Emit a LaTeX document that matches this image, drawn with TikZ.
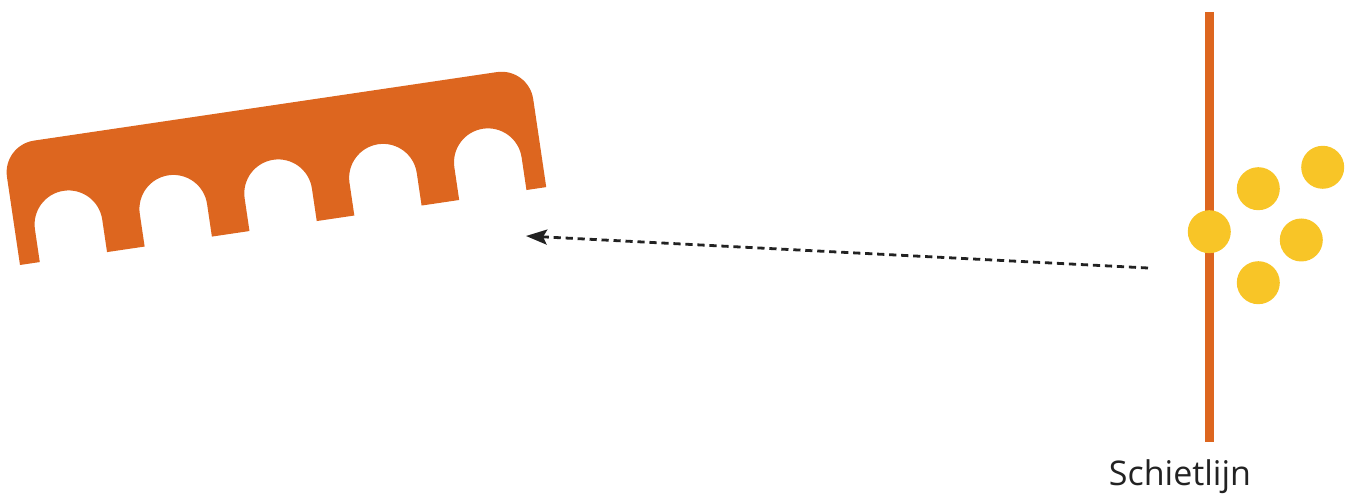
\documentclass[tikz,border=0pt]{standalone}
\usepackage{fontspec}
\setmainfont{Open Sans}
\usetikzlibrary{arrows.meta}
\definecolor{goalorange}{HTML}{DD661F}
\definecolor{ballyellow}{HTML}{F8C527}
\definecolor{inkgrey}{HTML}{222222}
\tikzset{
  ball/.style={circle,fill=ballyellow,draw=none,minimum size=21.5pt,inner sep=0pt},
  shotline/.style={draw=goalorange,line width=4.5pt},
  pass/.style={draw=inkgrey,line width=1.4pt,dash pattern=on 3.6pt off 2.4pt,-{Stealth[length=10.5pt,width=7.5pt,inset=2pt]}},
  label/.style={font=\fontsize{17}{20}\selectfont,text=inkgrey,inner sep=0pt}
}
\begin{document}
\begin{tikzpicture}[x=0.5pt,y=0.5pt]
\useasboundingbox (0,0) rectangle (1355,497);
% goal shape with arches
\begin{scope}[shift={(20,232)},rotate=8.42]
\fill[goalorange] (0,0) -- (0,89) arc[start angle=180,end angle=90,radius=32]
  -- (500,121) arc[start angle=90,end angle=0,radius=32]
  -- (532,0) -- (512,0)
  -- (512,33) arc[start angle=0,end angle=180,radius=34] -- (444,0) -- (406,0)
  -- (406,33) arc[start angle=0,end angle=180,radius=34] -- (338,0) -- (300,0)
  -- (300,33) arc[start angle=0,end angle=180,radius=34] -- (232,0) -- (194,0)
  -- (194,33) arc[start angle=0,end angle=180,radius=34] -- (126,0) -- (88,0)
  -- (88,33) arc[start angle=0,end angle=180,radius=34] -- (20,0) -- cycle;
\end{scope}
% shooting line
\coordinate (ltop) at (1209,485);
\coordinate (lbot) at (1209,55);
\draw[shotline] (ltop) -- (lbot);
% balls
\node[ball] (b1) at (1209.3,265.3) {};
\node[ball] (b2) at (1258.3,308.3) {};
\node[ball] (b3) at (1322.7,329.7) {};
\node[ball] (b4) at (1301.3,257) {};
\node[ball] (b5) at (1258.3,214.3) {};
% pass arrow
\coordinate (from) at (1148,229);
\coordinate (to) at (526,261);
\draw[pass] (from) -- (to);
% label
\node[label] (lab) at (1180,20) {Schietlijn};
\end{tikzpicture}
\end{document}
